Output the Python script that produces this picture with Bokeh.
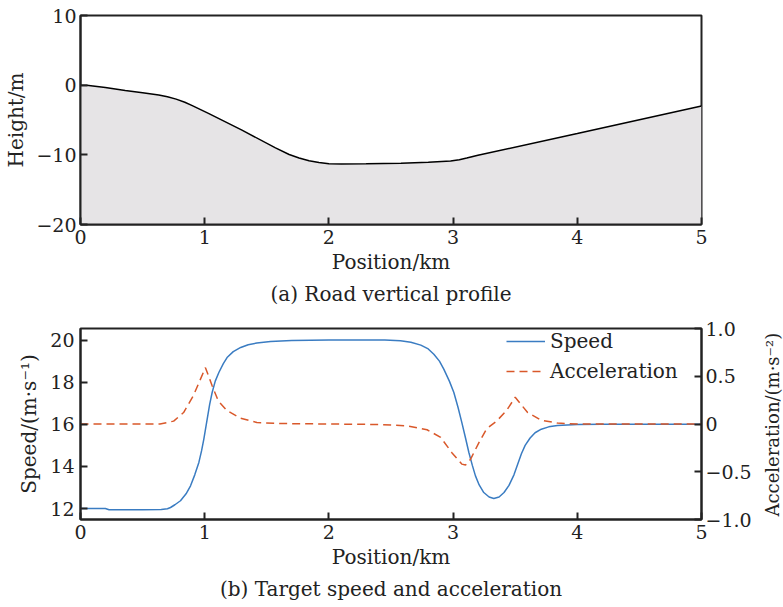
import math

from bokeh.plotting import figure
from bokeh.models import (Range1d, LinearAxis, FixedTicker, CustomJSTickFormatter,
                          Legend, LegendItem, Title, Label)
from bokeh.layouts import column, row
from bokeh.embed import file_html
from bokeh.resources import INLINE

# ---------------- data ----------------
# road vertical profile
pos_profile = [0.00, 0.05, 0.10, 0.20, 0.36, 0.50, 0.63, 0.70, 0.77, 0.84, 0.90,
               1.03, 1.30, 1.57, 1.68, 1.76, 1.84, 1.92, 2.00, 2.10, 2.30, 2.58,
               2.80, 2.98, 3.05, 3.11, 3.20, 4.00, 5.00]
height = [0.00, -0.02, -0.12, -0.35, -0.78, -1.08, -1.40, -1.65, -2.00, -2.45, -2.93,
          -4.05, -6.45, -9.00, -9.95, -10.45, -10.85, -11.10, -11.28, -11.33, -11.28, -11.20,
          -11.05, -10.88, -10.70, -10.45, -10.05, -6.95, -3.00]

# target speed
pos_speed = [0.00, 0.20, 0.23, 0.50, 0.65, 0.70, 0.725, 0.76, 0.805, 0.85, 0.886, 0.92,
             0.953, 0.975, 0.993, 1.02, 1.04, 1.06, 1.085, 1.114, 1.15, 1.18, 1.23,
             1.29, 1.35, 1.42, 1.53, 1.70, 2.00, 2.45, 2.576, 2.66, 2.74, 2.80, 2.845,
             2.89, 2.925, 2.97, 3.006, 3.04, 3.07, 3.10, 3.127, 3.155, 3.18, 3.21,
             3.247, 3.29, 3.328, 3.37, 3.41, 3.45, 3.49, 3.52, 3.55, 3.58, 3.62,
             3.66, 3.71, 3.77, 3.84, 4.00, 4.20, 5.00]
speed = [12.00, 12.00, 11.94, 11.94, 11.95, 11.99, 12.05, 12.18, 12.37, 12.70, 13.08, 13.60,
         14.19, 14.75, 15.30, 16.25, 16.95, 17.51, 18.05, 18.46, 18.88, 19.17, 19.45,
         19.65, 19.78, 19.86, 19.93, 19.98, 20.00, 20.00, 19.97, 19.90, 19.76, 19.58, 19.33,
         19.00, 18.62, 18.05, 17.51, 16.80, 16.09, 15.35, 14.66, 14.05, 13.55, 13.12,
         12.76, 12.55, 12.48, 12.55, 12.76, 13.10, 13.60, 14.10, 14.60, 15.00, 15.35,
         15.60, 15.77, 15.88, 15.94, 15.99, 16.00, 16.00]

# target acceleration
pos_acc = [0.00, 0.64, 0.75, 0.83, 0.91, 0.966, 1.006, 1.06, 1.11, 1.18, 1.29, 1.42,
           1.60, 2.00, 2.40, 2.63, 2.79, 2.90, 2.99, 3.07, 3.10, 3.14, 3.21, 3.27,
           3.35, 3.43, 3.50, 3.60, 3.71, 3.84, 4.00, 5.00]
acceleration = [0.00, 0.00, 0.03, 0.12, 0.30, 0.47, 0.59, 0.40, 0.24, 0.14, 0.06, 0.016,
                0.005, 0.00, -0.005, -0.02, -0.06, -0.14, -0.30, -0.42, -0.43, -0.37, -0.19, -0.05,
                0.03, 0.14, 0.28, 0.12, 0.04, 0.01, 0.00, 0.00]

x_ticks = [0, 1, 2, 3, 4, 5]
height_ticks = [-20, -10, 0, 10]
speed_ticks = [12, 14, 16, 18, 20]
acc_ticks = [-1.0, -0.5, 0.0, 0.5, 1.0]

# ---------------- styling ----------------
FONT = "DejaVu Serif"
INK = "#222222"
BLUE = "#3a7cc2"
ORANGE = "#d9582a"

INT_FMT = CustomJSTickFormatter(code="""
    const s = String(Math.abs(Math.round(tick)));
    return tick < -1e-9 ? "\u2212" + s : s;
""")
DEC_FMT = CustomJSTickFormatter(code="""
    if (Math.abs(tick) < 1e-9) return "0";
    const s = Math.abs(tick).toFixed(1);
    return tick < 0 ? "\u2212" + s : s;
""")


def style_axis(ax, ticks, fmt, label, standoff, label_standoff):
    ax.ticker = FixedTicker(ticks=ticks)
    ax.formatter = fmt
    if label:
        ax.axis_label = label
    ax.axis_label_text_font = FONT
    ax.axis_label_text_font_size = "20px"
    ax.axis_label_text_font_style = "normal"
    ax.axis_label_text_color = INK
    ax.axis_label_standoff = label_standoff
    ax.major_label_text_font = FONT
    ax.major_label_text_font_size = "19px"
    ax.major_label_text_color = INK
    ax.major_label_standoff = standoff
    ax.axis_line_color = INK
    ax.axis_line_width = 2
    ax.major_tick_line_color = INK
    ax.major_tick_line_width = 2
    ax.major_tick_in = 7
    ax.major_tick_out = 0
    ax.minor_tick_line_color = None


def caption(text):
    return Title(text=text, align="center", text_font=FONT, text_font_size="20px",
                 text_font_style="normal", text_color=INK, standoff=6)


# ---------------- (a) road vertical profile ----------------
p1 = figure(width=783, height=312, x_range=Range1d(0, 5), y_range=Range1d(-20, 10),
            output_backend="svg", toolbar_location=None,
            min_border_left=80, min_border_right=82, min_border_top=15, min_border_bottom=88)
p1.grid.visible = False
p1.outline_line_color = INK
p1.outline_line_width = 2
p1.background_fill_color = "white"

p1.varea(x=pos_profile, y1=[-20] * len(pos_profile), y2=height, fill_color="#e6e4e6")
p1.line(pos_profile, height, line_color="black", line_width=1.5)

style_axis(p1.xaxis[0], x_ticks, INT_FMT, "Position/km", 5, 3)
style_axis(p1.yaxis[0], height_ticks, INT_FMT, "Height/m", 4, 5)
p1.add_layout(caption("(a) Road vertical profile"), "below")

# ---------------- (b) target speed and acceleration ----------------
p2 = figure(width=757, height=295, x_range=Range1d(0, 5), y_range=Range1d(11.48, 20.55),
            output_backend="svg", toolbar_location=None,
            min_border_left=80, min_border_right=56, min_border_top=16, min_border_bottom=88)
p2.grid.visible = False
p2.outline_line_color = INK
p2.outline_line_width = 2
p2.extra_y_ranges = {"acc": Range1d(-1.0, 1.0)}

r_speed = p2.line(pos_speed, speed, line_color=BLUE, line_width=1.5)
r_acc = p2.line(pos_acc, acceleration, line_color=ORANGE, line_width=1.5,
                line_dash="8 5", y_range_name="acc")

style_axis(p2.xaxis[0], x_ticks, INT_FMT, "Position/km", 5, 3)
style_axis(p2.yaxis[0], speed_ticks, INT_FMT, "Speed/(m\u00b7s\u207b\u00b9)", 6, 6)

acc_axis = LinearAxis(y_range_name="acc")
style_axis(acc_axis, acc_ticks, DEC_FMT, None, 4, 4)
p2.add_layout(acc_axis, "right")
p2.add_layout(caption("(b) Target speed and acceleration"), "below")

legend = Legend(items=[LegendItem(label="Speed", renderers=[r_speed]),
                       LegendItem(label="Acceleration", renderers=[r_acc])],
                location=(426, 136), padding=0, margin=0, spacing=6,
                glyph_width=39, glyph_height=24, label_height=24, label_standoff=5,
                label_text_font=FONT, label_text_font_size="20px", label_text_color=INK,
                background_fill_alpha=0, border_line_alpha=0)
p2.add_layout(legend)

# narrow strip carrying the right-hand axis title, reading bottom to top.
# The row aligns its frame with the speed plot's frame (191 px tall), so the
# y range runs over those 191 px, counted downward.
p_lbl = figure(width=26, height=295, x_range=Range1d(0, 26), y_range=Range1d(191, 0),
               output_backend="svg", toolbar_location=None, title=None,
               x_axis_location=None, y_axis_location=None,
               min_border_left=0, min_border_right=0, min_border_top=0, min_border_bottom=0)
p_lbl.grid.visible = False
p_lbl.outline_line_color = None
p_lbl.add_layout(Label(x=15, y=188, text="Acceleration/(m\u00b7s\u207b\u00b2)",
                       angle=math.pi / 2, text_align="left", text_baseline="middle",
                       text_font=FONT, text_font_size="18px", text_color=INK))

layout = column(p1, row(p2, p_lbl, spacing=0), spacing=0)

with open("out.html", "w") as f:
    f.write(file_html(layout, INLINE))
